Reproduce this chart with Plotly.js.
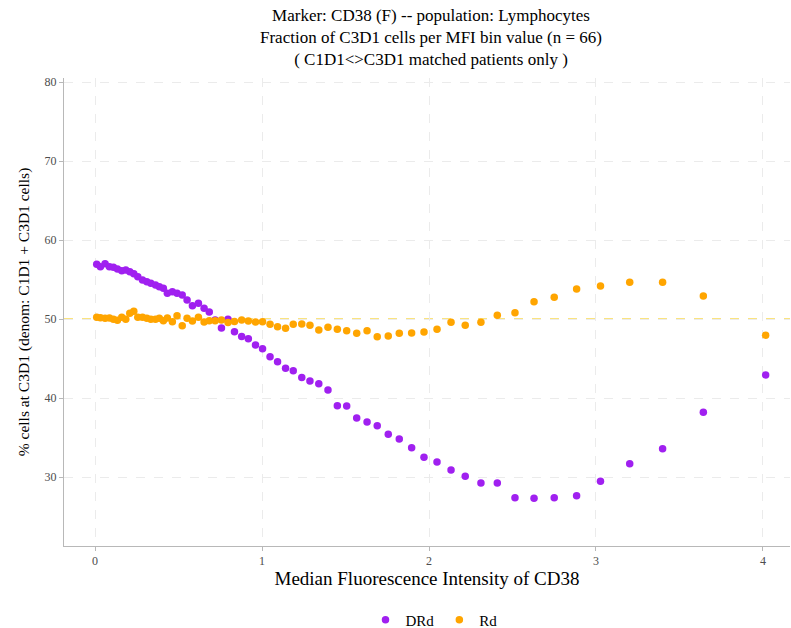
<!DOCTYPE html>
<html>
<head>
<meta charset="utf-8">
<script src="https://cdn.plot.ly/plotly-3.0.1.min.js"></script>
<style>html,body{margin:0;padding:0;background:#fff;}#chart{width:791px;height:628px;}</style>
</head>
<body>
<div id="chart"></div>
<script>
const mfi = [0.010,0.032,0.060,0.086,0.110,0.134,0.160,0.184,0.208,0.232,0.256,0.284,0.310,0.334,0.362,0.385,0.409,0.433,0.463,0.491,0.522,0.551,0.583,0.619,0.653,0.684,0.719,0.757,0.796,0.835,0.878,0.918,0.961,1.003,1.048,1.093,1.141,1.187,1.238,1.287,1.340,1.395,1.451,1.507,1.567,1.629,1.690,1.756,1.822,1.896,1.970,2.048,2.132,2.217,2.311,2.409,2.515,2.629,2.750,2.884,3.027,3.202,3.399,3.643,4.016];
const drd = [56.92,56.62,57.00,56.62,56.54,56.33,56.11,56.20,55.99,55.73,55.35,54.94,54.72,54.52,54.30,54.09,53.89,53.25,53.46,53.25,53.04,52.41,51.68,51.99,51.35,50.89,49.87,48.86,49.96,48.39,47.78,47.51,46.71,46.24,45.23,44.59,43.76,43.46,42.59,42.15,41.81,41.01,39.03,38.99,37.47,36.96,36.49,35.41,34.81,33.71,32.49,31.90,30.89,30.09,29.24,29.24,27.38,27.30,27.38,27.63,29.47,31.68,33.58,38.19,42.91];
const rd = [50.22,50.16,50.09,50.13,49.96,49.84,50.22,49.96,50.72,50.97,50.22,50.22,50.09,49.96,49.96,50.09,49.78,50.13,49.66,50.42,49.15,50.09,49.75,50.22,49.62,49.78,49.78,49.87,49.56,49.68,49.87,49.75,49.62,49.66,49.33,49.03,48.82,49.33,49.37,49.22,48.61,48.95,48.70,48.52,48.19,48.52,47.76,47.85,48.19,48.23,48.35,48.70,49.58,49.20,49.58,50.47,50.80,52.19,52.75,53.80,54.18,54.65,54.65,52.91,47.94];
const seriesNames = ["DRd", "Rd"];
const titleLines = ["Marker: CD38 (F) -- population: Lymphocytes",
                    "Fraction of C3D1 cells per MFI bin value (n = 66)",
                    "( C1D1<>C3D1 matched patients only )"];
const refLine = 50;
const xTicks = [0, 1, 2, 3, 4];
const yTicks = [30, 40, 50, 60, 70, 80];

const font = "Liberation Serif, DejaVu Serif, serif";
const W = 791, H = 628, M = {l: 64, r: 1, t: 78, b: 82};
const plotH = H - M.t - M.b, plotW = W - M.l - M.r;
const py = p => (H - M.b - p) / plotH;
const px = p => (p - M.l) / plotW;

const traces = [
  {x: mfi, y: drd, name: seriesNames[0], type: "scatter", mode: "markers",
   marker: {color: "#A020F0", size: 7.5}},
  {x: mfi, y: rd, name: seriesNames[1], type: "scatter", mode: "markers",
   marker: {color: "#FFA500", size: 7.5}}
];
const layout = {
  width: W, height: H,
  margin: M,
  paper_bgcolor: "#fff", plot_bgcolor: "#fff",
  font: {family: font, color: "#000"},
  annotations: [{
    text: titleLines.join("<br>"), xref: "paper", yref: "paper", x: px(431), y: py(37),
    xanchor: "center", yanchor: "middle", align: "center", showarrow: false,
    font: {family: font, size: 17, color: "#000"}
  }],
  xaxis: {range: [-0.186, 4.162], tickvals: xTicks, ticktext: xTicks.map(String),
          showgrid: true, gridcolor: "#ebebeb", griddash: "dash", gridwidth: 1,
          zeroline: false, showline: true, linecolor: "#b8b8b8", linewidth: 1,
          ticks: "outside", ticklen: 4, tickcolor: "#b8b8b8",
          tickfont: {family: font, size: 12, color: "#4d4d4d"},
          title: {text: "Median Fluorescence Intensity of CD38", font: {family: font, size: 19, color: "#000"}, standoff: 0}},
  yaxis: {range: [21.27, 80.51], tickvals: yTicks, ticktext: yTicks.map(String),
          showgrid: true, gridcolor: "#ebebeb", griddash: "dash", gridwidth: 1,
          zeroline: false, showline: true, linecolor: "#b8b8b8", linewidth: 1,
          ticks: "outside", ticklen: 4, tickcolor: "#b8b8b8",
          tickfont: {family: font, size: 12, color: "#4d4d4d"},
          title: {text: "% cells at C3D1 (denom: C1D1 + C3D1 cells)", font: {family: font, size: 15.5, color: "#000"}, standoff: 11}},
  shapes: [{type: "line", xref: "paper", x0: 0, x1: 1, yref: "y", y0: refLine, y1: refLine,
            line: {color: "#F5C800", width: 1.2, dash: "dash"}, layer: "below"}],
  showlegend: true,
  legend: {orientation: "h", xref: "paper", x: px(434), xanchor: "center",
           yref: "container", y: 8 / H, yanchor: "middle",
           font: {family: font, size: 15, color: "#000"}, itemwidth: 30}
};
Plotly.newPlot("chart", traces, layout, {displayModeBar: false, staticPlot: true});
</script>
</body>
</html>
